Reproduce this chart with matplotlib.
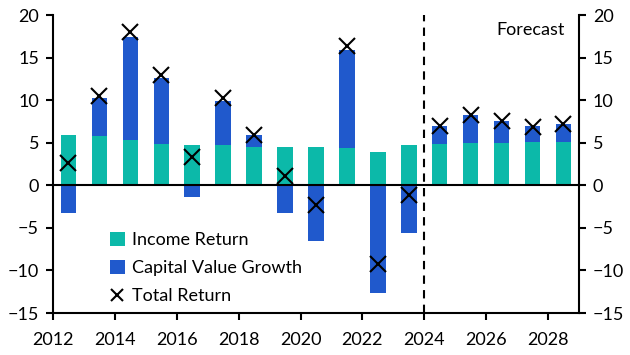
import matplotlib.pyplot as plt
import numpy as np

plt.rcParams['font.family'] = ['Lato', 'DejaVu Sans']

# Data (%, y/y)
years = [2012, 2013, 2014, 2015, 2016, 2017, 2018, 2019, 2020,
         2021, 2022, 2023, 2024, 2025, 2026, 2027, 2028]
income = [5.9, 5.8, 5.3, 4.85, 4.75, 4.75, 4.5, 4.5, 4.5,
          4.4, 3.9, 4.75, 4.85, 5.0, 5.0, 5.1, 5.1]
capital = [-3.2, 4.45, 12.1, 7.75, -1.4, 5.15, 1.4, -3.3, -6.6,
           11.5, -12.6, -5.65, 2.1, 3.25, 2.55, 1.85, 2.1]
total = [2.6, 10.5, 18.0, 12.95, 3.3, 10.2, 5.9, 1.1, -2.3,
         16.35, -9.2, -1.1, 6.95, 8.3, 7.55, 6.9, 7.2]
forecast_start = 2024

teal = '#0cb9a9'
blue = '#2059cc'

fig = plt.figure(figsize=(6.3, 3.55), dpi=100)
ax = fig.add_axes([0.0841, 0.1183, 0.8349, 0.8394])

x = np.array(years) + 0.5
inc = np.array(income)
cap = np.array(capital)
# capital growth stacks on top of income when positive, below zero when negative
cap_base = np.where(cap >= 0, inc, 0)

ax.bar(x, inc, width=0.5, color=teal, label='Income Return', zorder=2)
ax.bar(x, cap, width=0.5, bottom=cap_base, color=blue,
       label='Capital Value Growth', zorder=2)
ax.plot(x, total, linestyle='none', marker='x', markersize=11,
        markeredgewidth=1.5, color='black', label='Total Return', zorder=3)

ax.axhline(0, color='black', linewidth=1.5, zorder=4)
ax.axvline(forecast_start, color='black', linestyle=(0, (4, 3)),
           linewidth=1.5, zorder=4)
ax.text(2028.55, 18.2, 'Forecast', ha='right', va='center', fontsize=13)

ax.set_xlim(2012, 2029)
ax.set_ylim(-15, 20)
ax.set_xticks(range(2012, 2029, 2))
ax.set_yticks(range(-15, 21, 5))

ax.spines['top'].set_visible(False)
for side in ['left', 'right', 'bottom']:
    ax.spines[side].set_linewidth(1.5)
ax.tick_params(axis='both', labelsize=13, width=1.5, length=5,
               direction='out')
ax.tick_params(axis='x', pad=9)
ax.tick_params(axis='y', pad=5, right=True, labelright=True)

handles, labels = ax.get_legend_handles_labels()
order = [1, 2, 0]
ax.legend([handles[i] for i in order], [labels[i] for i in order],
          loc='lower left', bbox_to_anchor=(0.078, -0.025), frameon=False,
          fontsize=13, handlelength=0.8, handleheight=0.8,
          handletextpad=0.4, labelspacing=0.65, markerscale=0.8)

fig.savefig('out.png', dpi=100)
